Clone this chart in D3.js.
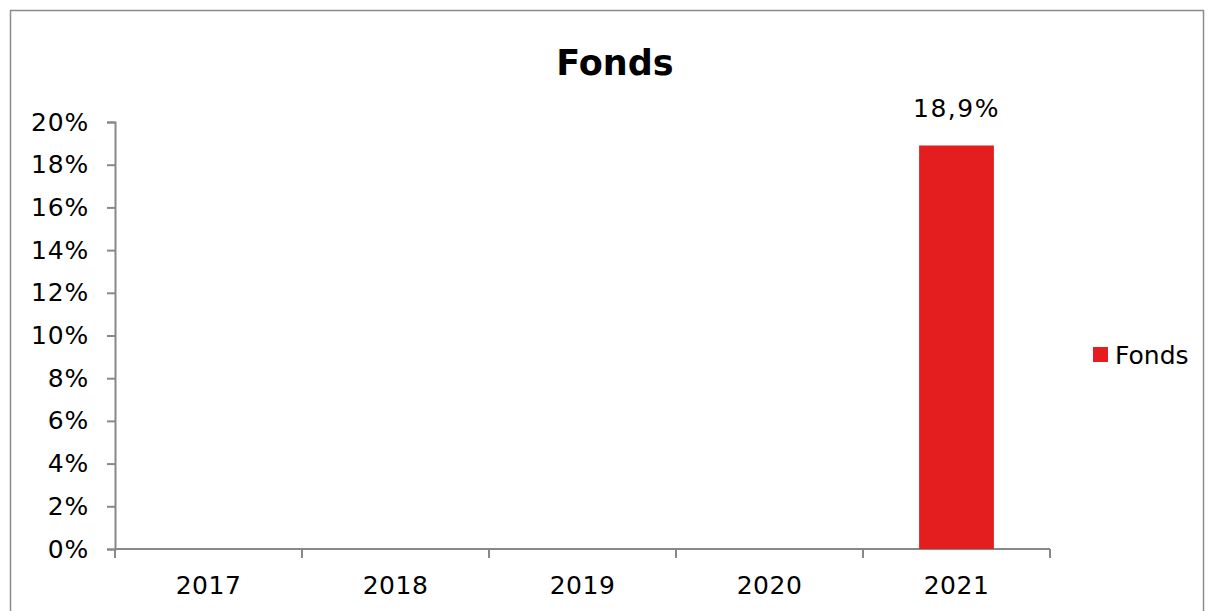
<!DOCTYPE html>
<meta charset="utf-8">
<style>
body { margin: 0; background: #fff; }
text { font-family: "DejaVu Sans", Verdana, sans-serif; fill: #000; }
</style>
<svg width="1209" height="611"></svg>
<script src="https://d3js.org/d3.v7.min.js"></script>
<script>

var years = ["2017", "2018", "2019", "2020", "2021"];
var fonds = [null, null, null, null, 18.9];
var yTicks = [0, 2, 4, 6, 8, 10, 12, 14, 16, 18, 20];
var seriesName = "Fonds";

var svg = d3.select("svg");

// chart area border
svg.append("rect")
    .attr("x", 10.5).attr("y", 10.5)
    .attr("width", 1193).attr("height", 620)
    .attr("fill", "none")
    .attr("stroke", "#8c8c8c")
    .attr("stroke-width", 1.5);

var x = d3.scaleBand().domain(years).range([115, 1050]);
var y = d3.scaleLinear().domain([0, 20]).range([549, 122]);

var axisColor = "#888";

// y axis
var yAxis = svg.append("g")
    .attr("transform", "translate(115,0)")
    .call(d3.axisLeft(y).tickValues(yTicks).tickSize(8).tickPadding(18)
        .tickFormat(function(d) { return d + "%"; }));
yAxis.selectAll("path, line").attr("stroke", axisColor).attr("stroke-width", 2);
yAxis.selectAll("text").style("font-size", "25px").style("letter-spacing", "0.8px").attr("fill", "#000");

// x axis, ticks on category boundaries
var xAxis = svg.append("g").attr("transform", "translate(0,549)");
xAxis.append("line")
    .attr("x1", 115).attr("x2", 1050)
    .attr("stroke", axisColor).attr("stroke-width", 2);
xAxis.selectAll(".tick")
    .data(years.concat(["end"]))
    .enter().append("line")
      .attr("x1", function(d, i) { return i < years.length ? x(d) : x.range()[1]; })
      .attr("x2", function(d, i) { return i < years.length ? x(d) : x.range()[1]; })
      .attr("y1", 0).attr("y2", 9)
      .attr("stroke", axisColor).attr("stroke-width", 2);
xAxis.selectAll(".lbl")
    .data(years)
    .enter().append("text")
      .attr("x", function(d) { return x(d) + x.bandwidth() / 2; })
      .attr("y", 45)
      .attr("text-anchor", "middle")
      .style("font-size", "25px")
      .style("letter-spacing", "0.5px")
      .text(function(d) { return d; });

// bars
var data = years.map(function(d, i) { return { year: d, value: fonds[i] }; })
    .filter(function(d) { return d.value != null; });

var bw = x.bandwidth() * 0.4;

svg.selectAll(".bar")
    .data(data)
    .enter().append("rect")
      .attr("x", function(d) { return x(d.year) + (x.bandwidth() - bw) / 2; })
      .attr("y", function(d) { return y(d.value); })
      .attr("width", bw)
      .attr("height", function(d) { return y(0) - y(d.value); })
      .attr("fill", "#e41e1e");

svg.selectAll(".val")
    .data(data)
    .enter().append("text")
      .attr("x", function(d) { return x(d.year) + x.bandwidth() / 2; })
      .attr("y", function(d) { return y(d.value) - 28; })
      .attr("text-anchor", "middle")
      .style("font-size", "25px")
      .style("letter-spacing", "1.5px")
      .text(function(d) { return String(d.value).replace(".", ",") + "%"; });

// title
svg.append("text")
    .attr("x", 615).attr("y", 75)
    .attr("text-anchor", "middle")
    .style("font-size", "35px")
    .style("font-weight", "bold")
    .text("Fonds");

// legend
svg.append("rect")
    .attr("x", 1093).attr("y", 347)
    .attr("width", 15).attr("height", 15)
    .attr("fill", "#e41e1e");
svg.append("text")
    .attr("x", 1115).attr("y", 364)
    .style("font-size", "25px")
    .text(seriesName);

</script>
